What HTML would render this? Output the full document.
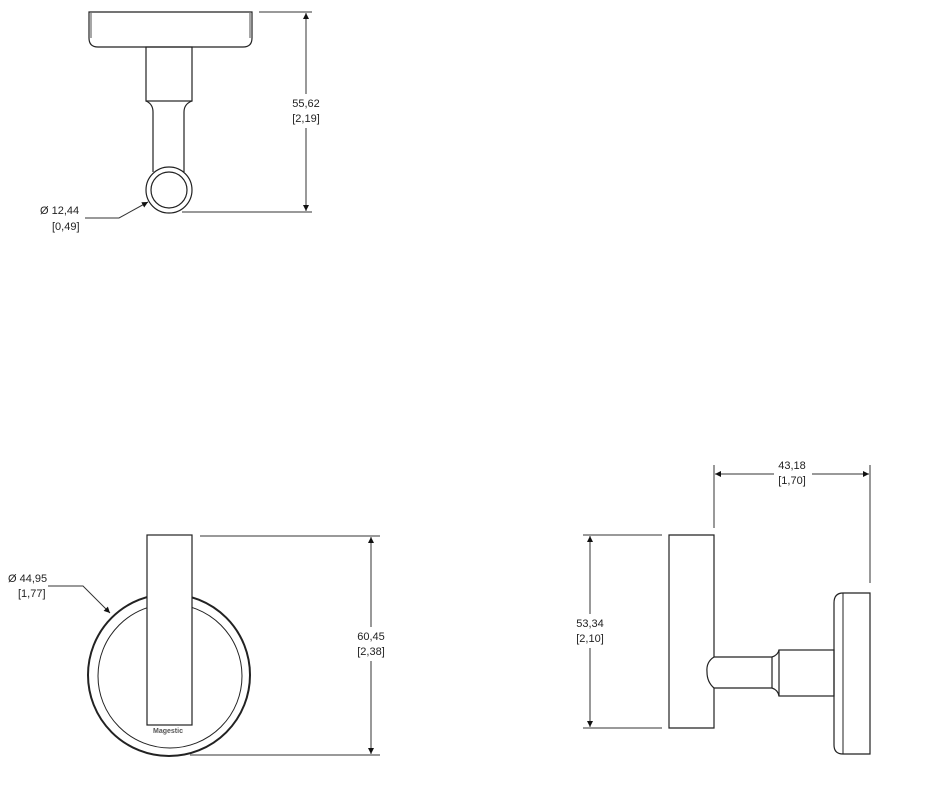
<!DOCTYPE html>
<html><head><style>
html,body{margin:0;padding:0;background:#fff;}
svg{display:block;}
text{font-family:"Liberation Sans",sans-serif;font-size:11px;fill:#222;}
</style></head><body>
<svg width="927" height="812" viewBox="0 0 927 812" xmlns="http://www.w3.org/2000/svg">
<defs>
<marker id="a" viewBox="0 0 10 10" refX="10" refY="5" markerWidth="9" markerHeight="6" orient="auto-start-reverse" markerUnits="userSpaceOnUse"><path d="M0,0 L10,5 L0,10 z" fill="#111"/></marker>
</defs>
<g fill="none" stroke="#222" stroke-width="1.2">
<!-- TOP VIEW -->
<path d="M89,12 H252 V38 Q252,47 243,47 H98 Q89,47 89,38 Z"/>
<line x1="91" y1="13" x2="91" y2="38" stroke-width="0.8"/>
<line x1="250" y1="13" x2="250" y2="38" stroke-width="0.8"/>
<rect x="146" y="47" width="46" height="54"/>
<path d="M146,101 Q153,104 153,112 V172"/>
<path d="M192,101 Q184,104 184,112 V172"/>
<circle cx="169" cy="190" r="23" fill="#fff"/>
<circle cx="169" cy="190" r="18"/>
<!-- dims top -->
<g stroke-width="1" stroke="#333">
<line x1="259" y1="12" x2="312" y2="12"/>
<line x1="182" y1="212" x2="312" y2="212"/>
<line x1="306" y1="13" x2="306" y2="211" marker-start="url(#a)" marker-end="url(#a)"/>
<polyline points="85,218 119,218 148,202" marker-end="url(#a)"/>
</g>
<!-- FRONT VIEW -->
<circle cx="169" cy="675" r="81" stroke-width="2"/>
<circle cx="170" cy="676" r="72" stroke-width="1"/>
<rect x="147" y="535" width="45" height="190" fill="#fff"/>
<g stroke-width="1" stroke="#333">
<line x1="200" y1="536" x2="380" y2="536"/>
<line x1="190" y1="755" x2="380" y2="755"/>
<line x1="371" y1="537" x2="371" y2="754" marker-start="url(#a)" marker-end="url(#a)"/>
<polyline points="48,586 83,586 110,613" marker-end="url(#a)"/>
</g>
<!-- SIDE VIEW -->
<path d="M714,657 V535 H669 V728 H714 V688"/>
<path d="M714,657 H772 M714,688 H772"/>
<path d="M714,657 Q706,662 707,672 Q707,682 714,688" />
<line x1="772" y1="657" x2="772" y2="688"/>
<path d="M772,657 Q778,655 779,650 M772,688 Q778,690 779,696"/>
<rect x="779" y="650" width="55" height="46"/>
<path d="M870,593 H843 Q834,593 834,603 V745 Q834,754 843,754 H870 Z"/>
<line x1="843" y1="593" x2="843" y2="754" stroke-width="1"/>
<g stroke-width="1" stroke="#333">
<line x1="714" y1="465" x2="714" y2="528"/>
<line x1="870" y1="465" x2="870" y2="583"/>
<line x1="715" y1="474" x2="774" y2="474" marker-start="url(#a)"/>
<line x1="812" y1="474" x2="869" y2="474" marker-end="url(#a)"/>
<line x1="583" y1="535" x2="662" y2="535"/>
<line x1="583" y1="728" x2="662" y2="728"/>
<line x1="590" y1="536" x2="590" y2="727" marker-start="url(#a)" marker-end="url(#a)"/>
</g>
</g>
<rect x="287" y="94" width="38" height="34" fill="#fff"/>
<text x="306" y="107" text-anchor="middle">55,62</text>
<text x="306" y="122" text-anchor="middle">[2,19]</text>
<text x="40" y="214">Ø 12,44</text>
<text x="52" y="230">[0,49]</text>
<rect x="352" y="627" width="38" height="34" fill="#fff"/>
<text x="371" y="640" text-anchor="middle">60,45</text>
<text x="371" y="655" text-anchor="middle">[2,38]</text>
<text x="8" y="582">Ø 44,95</text>
<text x="18" y="597">[1,77]</text>
<text x="168" y="733" text-anchor="middle" style="font-size:7px;font-weight:bold;fill:#555">Magestic</text>
<text x="792" y="469" text-anchor="middle">43,18</text>
<text x="792" y="484" text-anchor="middle">[1,70]</text>
<rect x="572" y="614" width="38" height="34" fill="#fff"/>
<text x="590" y="627" text-anchor="middle">53,34</text>
<text x="590" y="642" text-anchor="middle">[2,10]</text>
</svg>
</body></html>
